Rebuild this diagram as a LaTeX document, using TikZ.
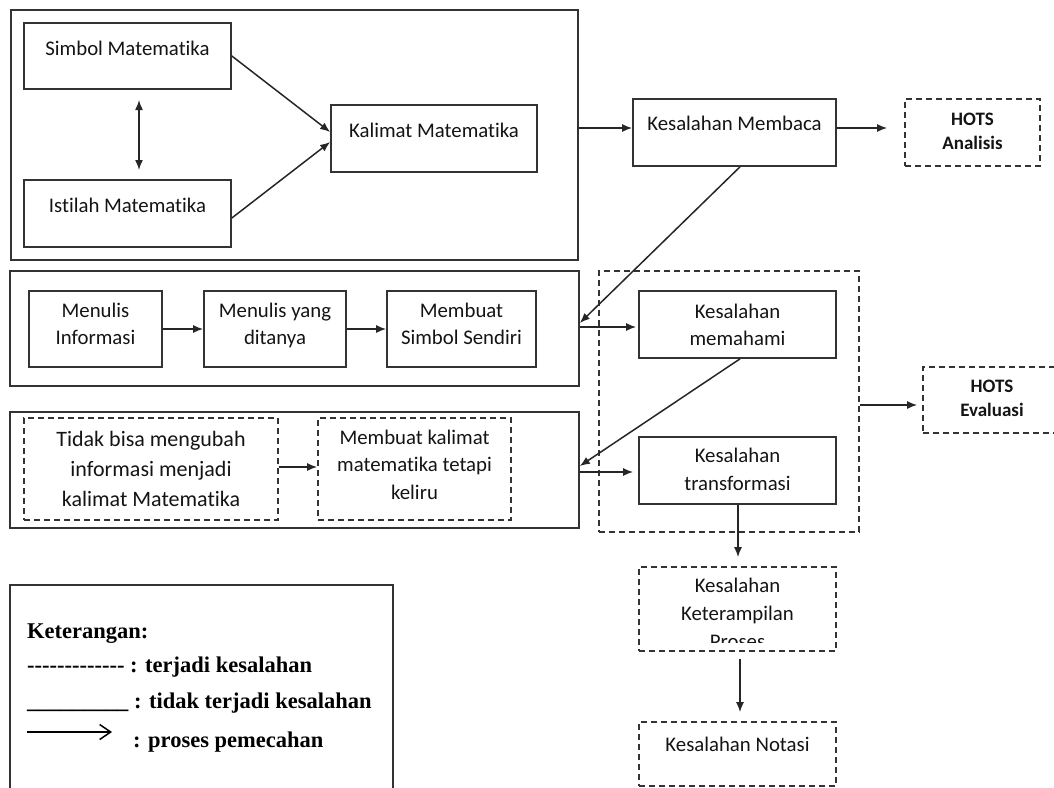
\documentclass[tikz,border=0pt]{standalone}
\usepackage{fontspec}
\setmainfont{Carlito}[Ligatures=NoCommon]
\newfontfamily\legendfont{Liberation Serif}
\usetikzlibrary{arrows.meta}
\newcommand\hy{\hbox{-}}
\tikzset{
  box/.style={draw=black!80, line width=1.7pt, rectangle, inner sep=0pt},
  dbox/.style={box, dash pattern=on 6pt off 4pt},
  lbl/.style={text=black!92, font=\fontsize{20.8}{27.5}\selectfont, align=center, inner sep=0pt},
  hots/.style={lbl, font=\bfseries\fontsize{19}{24}\selectfont},
  leg/.style={text=black, font=\legendfont\bfseries\fontsize{22.5}{27}\selectfont, inner sep=0pt, anchor=base west},
  arr/.style={-{Latex[length=10pt,width=8pt]}, line width=1.5pt, draw=black!85},
}
\begin{document}
\begin{tikzpicture}[x=1pt,y=-1pt]
\useasboundingbox (0,0) rectangle (1054,787);
\clip (0,0) rectangle (1054,787);

% rows used by horizontal connectors
\coordinate (rowA) at (0,128);
\coordinate (rowB) at (0,323);
\coordinate (rowC) at (0,327);
\coordinate (rowD) at (0,466);
\coordinate (rowE) at (0,472);
\coordinate (rowF) at (0,405);

% ---- group 1: symbols, terms, sentences
\node[box, minimum width=567, minimum height=250] (outer1) at (294.5,135) {};
\node[box, minimum width=207, minimum height=66] (simbol) at (127.5,56) {};
\node[lbl] (simbolT) at (127.5,50) {\strut Simbol Matematika};
\node[box, minimum width=207, minimum height=67] (istilah) at (127.5,213.5) {};
\node[lbl] (istilahT) at (127.5,207) {\strut Istilah Matematika};
\node[box, minimum width=206, minimum height=67] (kalimat) at (434,138.5) {};
\node[lbl] (kalimatT) at (434,132) {\strut Kalimat Matematika};
\coordinate (dA) at (139,100);
\coordinate (dB) at (139,170);
\draw[arr, {Latex[length=10pt,width=8pt]}-{Latex[length=10pt,width=8pt]}] (dA) -- (dB);
\draw[arr] (simbol.east) -- ([yshift=6.5pt]kalimat.west);
\draw[arr] ([yshift=-4.5pt]istilah.east) -- ([yshift=-3.5pt]kalimat.west);

% ---- reading error and HOTS analysis
\node[box, minimum width=203, minimum height=67] (membaca) at (734.5,132.5) {};
\node[lbl] (membacaT) at (734.5,125) {\strut Kesalahan Membaca};
\node[dbox, minimum width=135, minimum height=67] (analisis) at (972.5,132.5) {};
\node[hots] (analisisT) at (972.5,133) {\strut HOTS\\\strut Analisis};
\draw[arr] (outer1.east |- rowA) -- (membaca.west |- rowA);
\draw[arr, shorten >=17pt] (membaca.east |- rowA) -- (analisis.west |- rowA);

% ---- group 2: writing steps
\node[box, minimum width=569, minimum height=115] (outer2) at (294.5,328.5) {};
\node[box, minimum width=133, minimum height=76] (inf) at (95.5,329) {};
\node[lbl] (infT) at (95.5,325.5) {\strut Menulis\\\strut Informasi};
\node[box, minimum width=142, minimum height=76] (tanya) at (275,329) {};
\node[lbl] (tanyaT) at (275,325.5) {\strut Menulis yang\\\strut ditanya};
\node[box, minimum width=149, minimum height=76] (simbolS) at (461.5,329) {};
\node[lbl] (simbolST) at (461.5,325.5) {\strut Membuat\\\strut Simbol Sendiri};
\draw[arr] (inf.east) -- (tanya.west);
\draw[arr] (tanya.east) -- (simbolS.west);

% ---- group 3: transformation steps
\node[box, minimum width=569, minimum height=116] (outer3) at (294.5,470) {};
\node[dbox, minimum width=254, minimum height=102] (tidak) at (151,469) {};
\node[lbl, font=\fontsize{22}{30}\selectfont] (tidakT) at (151,470) {\strut Tidak bisa mengubah\\\strut informasi menjadi\\\strut kalimat Matematika};
\node[dbox, minimum width=193, minimum height=102] (keliru) at (414.5,469) {};
\node[lbl] (keliruT) at (414.5,466) {\strut Membuat kalimat\\\strut matematika tetapi\\\strut keliru};
\draw[arr] ([yshift=2pt]tidak.east) -- ([yshift=2pt]keliru.west);

% ---- understanding and transformation errors
\node[dbox, minimum width=260, minimum height=261] (bigdash) at (729,401.5) {};
\node[box, minimum width=197, minimum height=67] (memahami) at (737.5,324.5) {};
\node[lbl] (memahamiT) at (737.5,326.5) {\strut Kesalahan\\\strut memahami};
\node[box, minimum width=197, minimum height=67] (transf) at (737.5,470.5) {};
\node[lbl] (transfT) at (737.5,471) {\strut Kesalahan\\\strut transformasi};
\node[dbox, minimum width=138, minimum height=66] (evaluasi) at (992,400) {};
\node[hots] (evaluasiT) at (992,400) {\strut HOTS\\\strut Evaluasi};

\draw[arr] ([xshift=5.5pt]membaca.south) -- (outer2.east |- rowB);
\draw[arr, shorten >=2pt] (outer2.east |- rowC) -- (memahami.west |- rowC);
\draw[arr] ([xshift=2.5pt]memahami.south) -- (outer3.east |- rowD);
\draw[arr, shorten >=5pt] (outer3.east |- rowE) -- (transf.west |- rowE);
\draw[arr, shorten >=5pt] (bigdash.east |- rowF) -- (evaluasi.west |- rowF);

% ---- process skill and notation errors
\node[dbox, minimum width=197, minimum height=84] (keter) at (737.5,609) {};
\begin{scope}
  \clip (639,567) rectangle (836,642);
  \node[lbl, font=\fontsize{20.8}{28}\selectfont] (keterT) at (737.5,615) {\strut Kesalahan\\\strut Keterampilan\\\strut Proses};
\end{scope}
\node[dbox, minimum width=197, minimum height=64] (notasi) at (737.5,754) {};
\node[lbl] (notasiT) at (737.5,746) {\strut Kesalahan Notasi};
\draw[arr, shorten >=9pt] ([xshift=0.5pt]transf.south) -- ([xshift=0.5pt]keter.north);
\draw[arr, shorten <=7pt, shorten >=9pt] ([xshift=2.5pt]keter.south) -- ([xshift=2.5pt]notasi.north);

% ---- legend
\node[box, minimum width=383, minimum height=230] (legend) at (201.5,700) {};
\node[leg] (legA) at (27,638) {Keterangan:};
\node[leg] (legB) at (27,672) {\hy\hy\hy\hy\hy\hy\hy\hy\hy\hy\hy\hy\hy\ : terjadi kesalahan};
\node[leg] (legC) at (27,708) {\_\_\_\_\_\_\_\_\_\ : tidak terjadi kesalahan};
\coordinate (lgA) at (27,732);
\coordinate (lgB) at (112,732);
\draw[line width=1.5pt, -{Straight Barb[length=11pt,width=15pt,line width=1.5pt]}] (lgA) -- (lgB);
\node[leg] (legD) at (133,747) {: proses pemecahan};
\end{tikzpicture}
\end{document}
